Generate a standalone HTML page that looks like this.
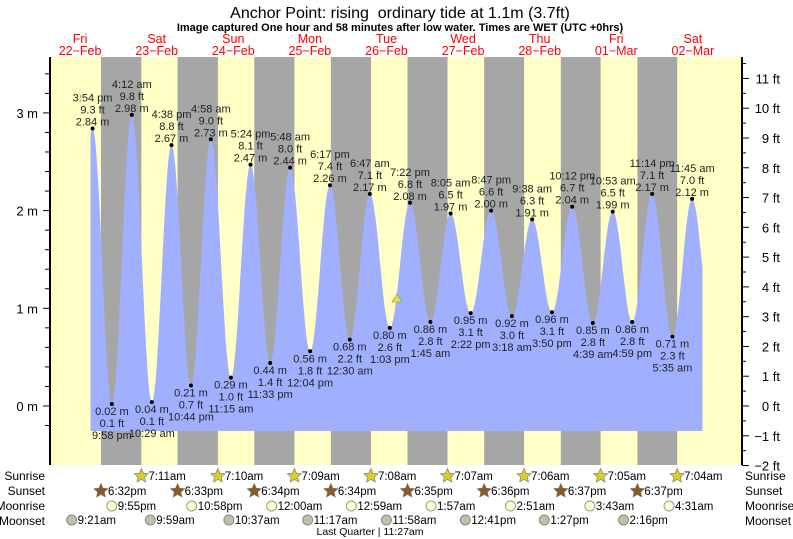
<!DOCTYPE html>
<html><head><meta charset="utf-8"><style>
html,body{margin:0;padding:0;background:#fff;}
svg{display:block;font-family:"Liberation Sans",sans-serif;}
</style></head><body>
<svg id="s" width="793" height="539" xmlns="http://www.w3.org/2000/svg"></svg>
<script>
const S=document.getElementById('s');let h='';
const X0=41.8,PD=76.6,Y0=406,PM=97.7;
const X=d=>X0+PD*d, Y=m=>Y0-PM*m;
const t=(day,hh,mm,pm)=>{if(pm&&hh!=12)hh+=12;if(!pm&&hh==12)hh=0;return day+(hh*60+mm)/1440;};
h+=`<rect x="50" y="57" width="692" height="408" fill="#ffffc6"/>`;
const sr=[[1,7,11],[2,7,10],[3,7,9],[4,7,8],[5,7,7],[6,7,6],[7,7,5],[8,7,4]];
const ss=[[0,6,32],[1,6,33],[2,6,34],[3,6,34],[4,6,35],[5,6,36],[6,6,37],[7,6,37]];
for(let i=0;i<8;i++){const a=X(t(ss[i][0],ss[i][1],ss[i][2],1)),b=X(t(sr[i][0],sr[i][1],sr[i][2],0));h+=`<rect x="${a}" y="57" width="${b-a}" height="408" fill="#a6a6a6"/>`;}
const D=[[0.39,0.1],
[t(0,3,54,1),2.84,'3:54 pm','9.3'],[t(0,9,58,1),0.02,'9:58 pm','0.1'],
[t(1,4,12,0),2.98,'4:12 am','9.8'],[t(1,10,29,0),0.04,'10:29 am','0.1'],
[t(1,4,38,1),2.67,'4:38 pm','8.8'],[t(1,10,44,1),0.21,'10:44 pm','0.7'],
[t(2,4,58,0),2.73,'4:58 am','9.0'],[t(2,11,15,0),0.29,'11:15 am','1.0'],
[t(2,5,24,1),2.47,'5:24 pm','8.1'],[t(2,11,33,1),0.44,'11:33 pm','1.4'],
[t(3,5,48,0),2.44,'5:48 am','8.0'],[t(3,12,4,1),0.56,'12:04 pm','1.8'],
[t(3,6,17,1),2.26,'6:17 pm','7.4'],[t(4,12,30,0),0.68,'12:30 am','2.2'],
[t(4,6,47,0),2.17,'6:47 am','7.1'],[t(4,1,3,1),0.80,'1:03 pm','2.6'],
[t(4,7,22,1),2.08,'7:22 pm','6.8'],[t(5,1,45,0),0.86,'1:45 am','2.8'],
[t(5,8,5,0),1.97,'8:05 am','6.5'],[t(5,2,22,1),0.95,'2:22 pm','3.1'],
[t(5,8,47,1),2.00,'8:47 pm','6.6'],[t(6,3,18,0),0.92,'3:18 am','3.0'],
[t(6,9,38,0),1.91,'9:38 am','6.3'],[t(6,3,50,1),0.96,'3:50 pm','3.1'],
[t(6,10,12,1),2.04,'10:12 pm','6.7'],[t(7,4,39,0),0.85,'4:39 am','2.8'],
[t(7,10,53,0),1.99,'10:53 am','6.5'],[t(7,4,59,1),0.86,'4:59 pm','2.8'],
[t(7,11,14,1),2.17,'11:14 pm','7.1'],[t(8,5,35,0),0.71,'5:35 am','2.3'],
[t(8,11,45,0),2.12,'11:45 am','7.0'],[8.74,0.85]];
const d0=(90.5-X0)/PD,d1=(702.5-X0)/PD;
function val(d){for(let i=0;i<D.length-1;i++){const [a,va]=D[i],[b,vb]=D[i+1];if(d>=a&&d<=b){const f=(1-Math.cos(Math.PI*(d-a)/(b-a)))/2;return va+(vb-va)*f;}}return 0;}
let p=`M${X(d0)},431 `;for(let d=d0;d<=d1;d+=0.004)p+=`L${X(d).toFixed(1)},${Y(val(d)).toFixed(1)} `;p+=`L${X(d1)},${Y(val(d1))} L${X(d1)},431 Z`;
h+=`<path d="${p}" fill="#a0b0ff"/>`;
for(let i=1;i<D.length-1;i++){const [d,v,tm,ft]=D[i];const x=X(d),y=Y(v);h+=`<circle cx="${x}" cy="${y}" r="2" fill="#000"/>`;
const hi=v>1.5;const ys=hi?[y-27,y-15,y-3]:[y+35,y+23,y+11];
h+=`<g font-size="11" text-anchor="middle" fill="#222"><text x="${x}" y="${ys[0]}">${tm}</text><text x="${x}" y="${ys[1]}">${ft} ft</text><text x="${x}" y="${ys[2]}">${v.toFixed(2)} m</text></g>`;}
h+=`<polygon points="392,302 397,294 402,302" fill="#e8e040" stroke="#888" stroke-width="0.6"/>`;
h+=`<line x1="50" y1="57" x2="50" y2="465" stroke="#000" stroke-width="2"/>`;
for(let m=-0.2;m<=3.6;m+=0.2){const y=Y(m);const maj=Math.abs(m-Math.round(m))<0.01;h+=`<line x1="${maj?43:45}" y1="${y}" x2="50" y2="${y}" stroke="#000"/>`;if(maj)h+=`<text x="38" y="${y+5}" font-size="13" text-anchor="end">${Math.round(m)} m</text>`;}
h+=`<line x1="742" y1="57" x2="742" y2="465" stroke="#000" stroke-width="2"/>`;
for(let f=-2;f<=11.5;f+=0.5){const y=Y(f*0.3048);if(y<57)continue;const maj=f%1==0;h+=`<line x1="742" y1="${y}" x2="${maj?749:746}" y2="${y}" stroke="#000"/>`;if(maj)h+=`<text x="780" y="${y+5}" font-size="13" text-anchor="end">${f<0?'\u2212'+(-f):f} ft</text>`;}
h+=`<text x="400" y="18" font-size="16" text-anchor="middle" style="white-space:pre">Anchor Point: rising  ordinary tide at 1.1m (3.7ft)</text>`;
h+=`<text x="400" y="31" font-size="11" font-weight="bold" text-anchor="middle">Image captured One hour and 58 minutes after low water. Times are WET (UTC +0hrs)</text>`;
const days=[['Fri','22-Feb'],['Sat','23-Feb'],['Sun','24-Feb'],['Mon','25-Feb'],['Tue','26-Feb'],['Wed','27-Feb'],['Thu','28-Feb'],['Fri','01-Mar'],['Sat','02-Mar']];
days.forEach((a,i)=>{const x=X(i+0.5);h+=`<g fill="#f00" font-size="12.5" text-anchor="middle"><text x="${x}" y="43">${a[0]}</text><text x="${x}" y="55">${a[1].replace('-','\u2212')}</text></g>`;});
const rows=[['Sunrise',480],['Sunset',495],['Moonrise',510],['Moonset',525]];
rows.forEach(r=>{h+=`<text x="45" y="${r[1]}" font-size="12" text-anchor="end">${r[0]}</text><text x="745" y="${r[1]}" font-size="12">${r[0]}</text>`;});
function star(x,y,c){let pts='';for(let k=0;k<10;k++){const a=-Math.PI/2+k*Math.PI/5,rr=k%2?3.5:7.5;pts+=`${x+rr*Math.cos(a)},${y+rr*Math.sin(a)} `;}return `<polygon points="${pts}" fill="${c}" stroke="#776" stroke-width="0.6"/>`;}
sr.forEach(s=>{const x=X(t(s[0],s[1],s[2],0));h+=star(x,476,'#d8cc30')+`<text x="${x+7}" y="480" font-size="11.5">${s[1]}:${String(s[2]).padStart(2,'0')}am</text>`;});
ss.forEach(s=>{const x=X(t(s[0],s[1],s[2],1));h+=star(x,491,'#8b5a2b')+`<text x="${x+7}" y="495" font-size="11.5">${s[1]}:${String(s[2]).padStart(2,'0')}pm</text>`;});
const mr=[[0,9,55,1],[1,10,58,1],[3,12,0,0],[4,12,59,0],[5,1,57,0],[6,2,51,0],[7,3,43,0],[8,4,31,0]];
mr.forEach(s=>{const x=X(t(...s));h+=`<circle cx="${x}" cy="506" r="5" fill="#ffffcc" stroke="#999"/><text x="${x+6}" y="510" font-size="11.5">${s[1]}:${String(s[2]).padStart(2,'0')}${s[3]?'pm':'am'}</text>`;});
const ms=[[0,9,21,0],[1,9,59,0],[2,10,37,0],[3,11,17,0],[4,11,58,0],[5,12,41,1],[6,1,27,1],[7,2,16,1]];
ms.forEach(s=>{const x=X(t(...s));h+=`<circle cx="${x}" cy="520" r="5" fill="#c0c0a8" stroke="#888"/><text x="${x+6}" y="524" font-size="11.5">${s[1]}:${String(s[2]).padStart(2,'0')}${s[3]?'pm':'am'}</text>`;});
h+=`<text x="370" y="535" font-size="10.5" text-anchor="middle">Last Quarter | 11:27am</text>`;
S.innerHTML=h;
</script>
</body></html>
